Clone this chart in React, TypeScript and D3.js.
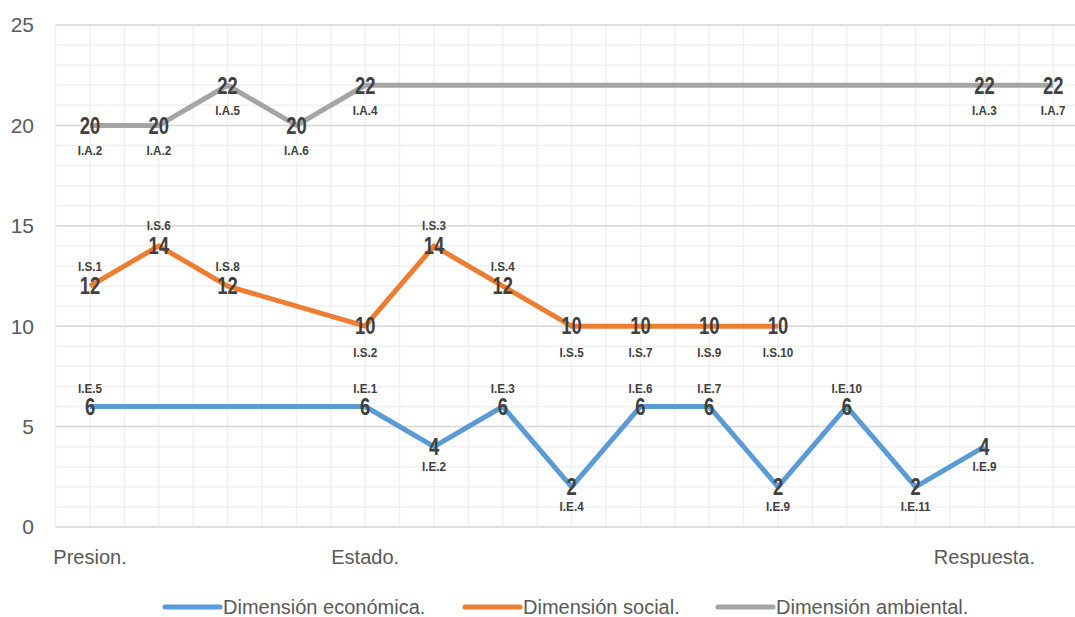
import React from "react";
import * as d3 from "d3";

const categories: string[] = ["Presion.", "", "", "", "Estado.", "", "", "", "", "", "", "", "", "Respuesta.", ""];
const seriesNames: string[] = ["Dimensión económica.", "Dimensión social.", "Dimensión ambiental."];
const colors: string[] = ["#5b9bd5", "#ed7d31", "#a5a5a5"];

const economica: (number | null)[] = [6, null, null, null, 6, 4, 6, 2, 6, 6, 2, 6, 2, 4, null];
const economicaLabels: string[] = ["I.E.5", "", "", "", "I.E.1", "I.E.2", "I.E.3", "I.E.4", "I.E.6", "I.E.7", "I.E.9", "I.E.10", "I.E.11", "I.E.9", ""];
const economicaPos: string[] = ["a", "", "", "", "a", "b", "a", "b", "a", "a", "b", "a", "b", "b", ""];

const social: (number | null)[] = [12, 14, 12, null, 10, 14, 12, 10, 10, 10, 10, null, null, null, null];
const socialLabels: string[] = ["I.S.1", "I.S.6", "I.S.8", "", "I.S.2", "I.S.3", "I.S.4", "I.S.5", "I.S.7", "I.S.9", "I.S.10", "", "", "", ""];
const socialPos: string[] = ["a", "a", "a", "", "b", "a", "a", "b", "b", "b", "b", "", "", "", ""];

const ambiental: (number | null)[] = [20, 20, 22, 20, 22, null, null, null, null, null, null, null, null, 22, 22];
const ambientalLabels: string[] = ["I.A.2", "I.A.2", "I.A.5", "I.A.6", "I.A.4", "", "", "", "", "", "", "", "", "I.A.3", "I.A.7"];
const ambientalPos: string[] = ["b", "b", "b", "b", "b", "", "", "", "", "", "", "", "", "b", "b"];

const yTicks: number[] = [0, 5, 10, 15, 20, 25];

const FONT = "'Liberation Sans Narrow', 'Arial Narrow', 'Liberation Sans', Arial, sans-serif";

export default function App() {
  const W = 1075, H = 617;
  const left = 55.6, top = 25, bottom = 527;
  const step = 68.8;
  const x = d3.scaleBand<number>().domain(d3.range(categories.length)).range([left, left + step * categories.length]).padding(0);
  const cx = (i: number) => (x(i) as number) + x.bandwidth() / 2;
  const y = d3.scaleLinear().domain([0, 25]).range([bottom, top]);

  const series = [
    { values: economica, labels: economicaLabels, pos: economicaPos, color: colors[0], above: -18, below: 20 },
    { values: social, labels: socialLabels, pos: socialPos, color: colors[1], above: -20, below: 26 },
    { values: ambiental, labels: ambientalLabels, pos: ambientalPos, color: colors[2], above: -20, below: 25 },
  ];

  const line = d3.line<[number, number]>().x((d) => cx(d[0])).y((d) => y(d[1]));

  const vLines: number[] = [];
  for (let i = 0; i <= categories.length; i++) {
    vLines.push(x(i) ?? left + step * categories.length);
    if (i < categories.length) vLines.push(cx(i));
  }
  const minorTicks = d3.range(0, 26, 1);

  const legendItems = [
    { name: seriesNames[0], color: colors[0], x0: 165 },
    { name: seriesNames[1], color: colors[1], x0: 465 },
    { name: seriesNames[2], color: colors[2], x0: 718 },
  ];

  return (
    <svg width={W} height={H} style={{ position: "absolute", left: 0, top: 0, background: "#fff" }} fontFamily={FONT}>
      <rect width={W} height={H} fill="#fff" />
      {minorTicks.map((t) => (
        <line key={"m" + t} x1={left} x2={W + 20} y1={y(t)} y2={y(t)} stroke="#f0f0f0" strokeWidth={1.5} />
      ))}
      {vLines.map((vx, i) => (
        <line key={"v" + i} x1={vx} x2={vx} y1={top} y2={bottom} stroke="#f0f0f0" strokeWidth={1.5} />
      ))}
      {yTicks.map((t) => (
        <line key={"M" + t} x1={left} x2={W + 20} y1={y(t)} y2={y(t)} stroke="#d9d9d9" strokeWidth={1.5} />
      ))}
      {yTicks.map((t) => (
        <text key={"yl" + t} x={34} y={y(t)} dy="0.35em" textAnchor="end" fontSize={21} fill="#595959">{t}</text>
      ))}
      {categories.map((c, i) => (c ? (
        <text key={"xl" + i} x={cx(i)} y={557} dy="0.35em" textAnchor="middle" fontSize={20} fill="#595959">{c}</text>
      ) : null))}
      {series.map((s, si) => {
        const pts: [number, number][] = [];
        s.values.forEach((v, i) => { if (v !== null) pts.push([i, v]); });
        return (
          <path key={"p" + si} d={line(pts) || ""} fill="none" stroke={s.color} strokeWidth={5} strokeLinejoin="round" />
        );
      })}
      {series.map((s, si) => (
        <g key={"lab" + si}>
          {s.values.map((v, i) => {
            if (v === null) return null;
            const py = y(v);
            const ly = s.pos[i] === "a" ? py + s.above : py + s.below;
            return (
              <g key={i}>
                <text transform={`translate(${cx(i)},${py}) scale(0.8,1)`} dy="0.36em" textAnchor="middle" fontSize={23} fontWeight="bold" fill="#404040">{v}</text>
                <text transform={`translate(${cx(i)},${ly}) scale(0.9,1)`} dy="0.35em" textAnchor="middle" fontSize={13} fontWeight="bold" fill="#404040">{s.labels[i]}</text>
              </g>
            );
          })}
        </g>
      ))}
      {legendItems.map((l, i) => (
        <g key={"lg" + i}>
          <line x1={l.x0} x2={l.x0 + 55} y1={607} y2={607} stroke={l.color} strokeWidth={5} strokeLinecap="round" />
          <text x={l.x0 + 58} y={607} dy="0.35em" fontSize={20} fill="#595959">{l.name}</text>
        </g>
      ))}
    </svg>
  );
}
